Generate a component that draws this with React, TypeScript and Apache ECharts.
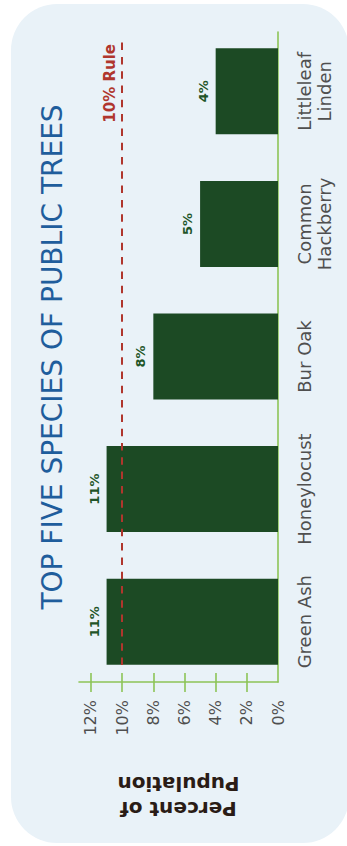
import { useEffect, useRef } from 'react';
import * as echarts from 'echarts';

// Five most common public tree species and their share of the population (%)
const categories = ['Green Ash', 'Honeylocust', 'Bur Oak', 'Common\nHackberry', 'Littleleaf\nLinden'];
const shares = [11, 11, 8, 5, 4];
const tickLabelValues = [0, 2, 4, 6, 8, 10, 12];
const tickMarkValues = [2, 4, 6, 8, 10, 12];
const ruleValue = 10;
const axisMax = 12.77;

const FONT = '"DejaVu Sans", "Noto Sans", sans-serif';
const BG = '#e9f2f8';
const BAR_GREEN = '#1c4a24';
const LABEL_GREEN = '#1f5528';
const AXIS_GREEN = '#8dc457';
const RULE_RED = '#b0362d';
const TITLE_BLUE = '#1f5d9c';
const TEXT_GREY = '#4f4f4f';
const NAME_DARK = '#2a1c16';

const GRID_SIDES = { left: 79, right: 69 };

export default function App() {
  const ref = useRef<HTMLDivElement>(null);

  useEffect(() => {
    if (!ref.current) return;
    const chart = echarts.init(ref.current, null, { renderer: 'svg' });

    const valueAxis = {
      type: 'value',
      inverse: true,
      min: 0,
      max: axisMax,
      splitLine: { show: false },
    };
    const axisStroke = { color: AXIS_GREEN, width: 1.6 };

    chart.setOption({
      animation: false,
      grid: [
        // axis frame
        { ...GRID_SIDES, top: 32, bottom: 164, outerBoundsMode: 'none' },
        // bars
        { ...GRID_SIDES, top: 25, bottom: 158, outerBoundsMode: 'none' },
        // reference rule
        { ...GRID_SIDES, top: 39, bottom: 181, outerBoundsMode: 'none' },
      ],
      graphic: [
        {
          type: 'rect',
          z: -10,
          silent: true,
          shape: { x: 11, y: 4, width: 338, height: 839, r: 46 },
          style: { fill: BG },
        },
        {
          type: 'text',
          x: 52,
          y: 357,
          rotation: Math.PI / 2,
          silent: true,
          style: {
            text: 'TOP FIVE SPECIES OF PUBLIC TREES',
            fill: TITLE_BLUE,
            fontFamily: FONT,
            fontSize: 28,
            fontWeight: 'normal',
            align: 'center',
            verticalAlign: 'middle',
            textAlign: 'center',
            textVerticalAlign: 'middle',
          },
        },
      ],
      xAxis: [
        {
          ...valueAxis,
          gridIndex: 0,
          position: 'bottom',
          axisLine: { show: true, lineStyle: axisStroke },
          axisTick: { show: true, customValues: tickMarkValues, length: 10, lineStyle: axisStroke },
          axisLabel: {
            customValues: tickLabelValues,
            formatter: '{value}%',
            rotate: 90,
            margin: 18,
            color: TEXT_GREY,
            fontFamily: FONT,
            fontSize: 16,
          },
          name: 'Percent of\nPupulation',
          nameLocation: 'middle',
          nameRotate: 180,
          nameGap: 89,
          nameTextStyle: {
            color: NAME_DARK,
            fontFamily: FONT,
            fontWeight: 'bold',
            fontSize: 20,
            lineHeight: 25,
          },
        },
        {
          ...valueAxis,
          gridIndex: 0,
          position: 'bottom',
          axisLine: { show: false },
          axisTick: { show: true, inside: true, customValues: tickMarkValues, length: 9, lineStyle: axisStroke },
          axisLabel: { show: false },
        },
        { ...valueAxis, gridIndex: 1, show: false },
        { ...valueAxis, gridIndex: 2, show: false },
      ],
      yAxis: [
        {
          type: 'category',
          gridIndex: 0,
          data: categories,
          position: 'right',
          axisLine: { show: true, lineStyle: axisStroke },
          axisTick: { show: false },
          axisLabel: { show: false },
        },
        {
          type: 'category',
          gridIndex: 1,
          data: categories,
          position: 'right',
          axisLine: { show: false },
          axisTick: { show: false },
          axisLabel: {
            interval: 0,
            hideOverlap: false,
            rotate: 90,
            margin: 16,
            color: TEXT_GREY,
            fontFamily: FONT,
            fontSize: 18,
            lineHeight: 20,
          },
        },
        { type: 'value', gridIndex: 2, min: 0, max: 1, show: false },
      ],
      series: [
        {
          type: 'bar',
          xAxisIndex: 2,
          yAxisIndex: 1,
          data: shares,
          barWidth: 86,
          silent: true,
          itemStyle: { color: BAR_GREEN },
          label: {
            show: true,
            position: 'left',
            distance: 6,
            rotate: 90,
            align: 'center',
            verticalAlign: 'bottom',
            formatter: '{c}%',
            color: LABEL_GREEN,
            fontFamily: FONT,
            fontWeight: 'bold',
            fontSize: 13,
          },
        },
        {
          type: 'line',
          xAxisIndex: 3,
          yAxisIndex: 2,
          data: [],
          z: 5,
          silent: true,
          markLine: {
            silent: true,
            symbol: 'none',
            animation: false,
            lineStyle: { color: RULE_RED, width: 2, type: [7.5, 6.8] },
            label: {
              show: true,
              position: 'insideEndTop',
              distance: 5,
              formatter: `${ruleValue}% Rule`,
              color: RULE_RED,
              fontFamily: FONT,
              fontWeight: 'bold',
              fontSize: 15,
            },
            data: [{ xAxis: ruleValue }],
          },
        },
      ],
    });

    return () => chart.dispose();
  }, []);

  return (
    <div
      ref={ref}
      style={{ position: 'absolute', left: 0, top: 0, width: 347, height: 846 }}
    />
  );
}
